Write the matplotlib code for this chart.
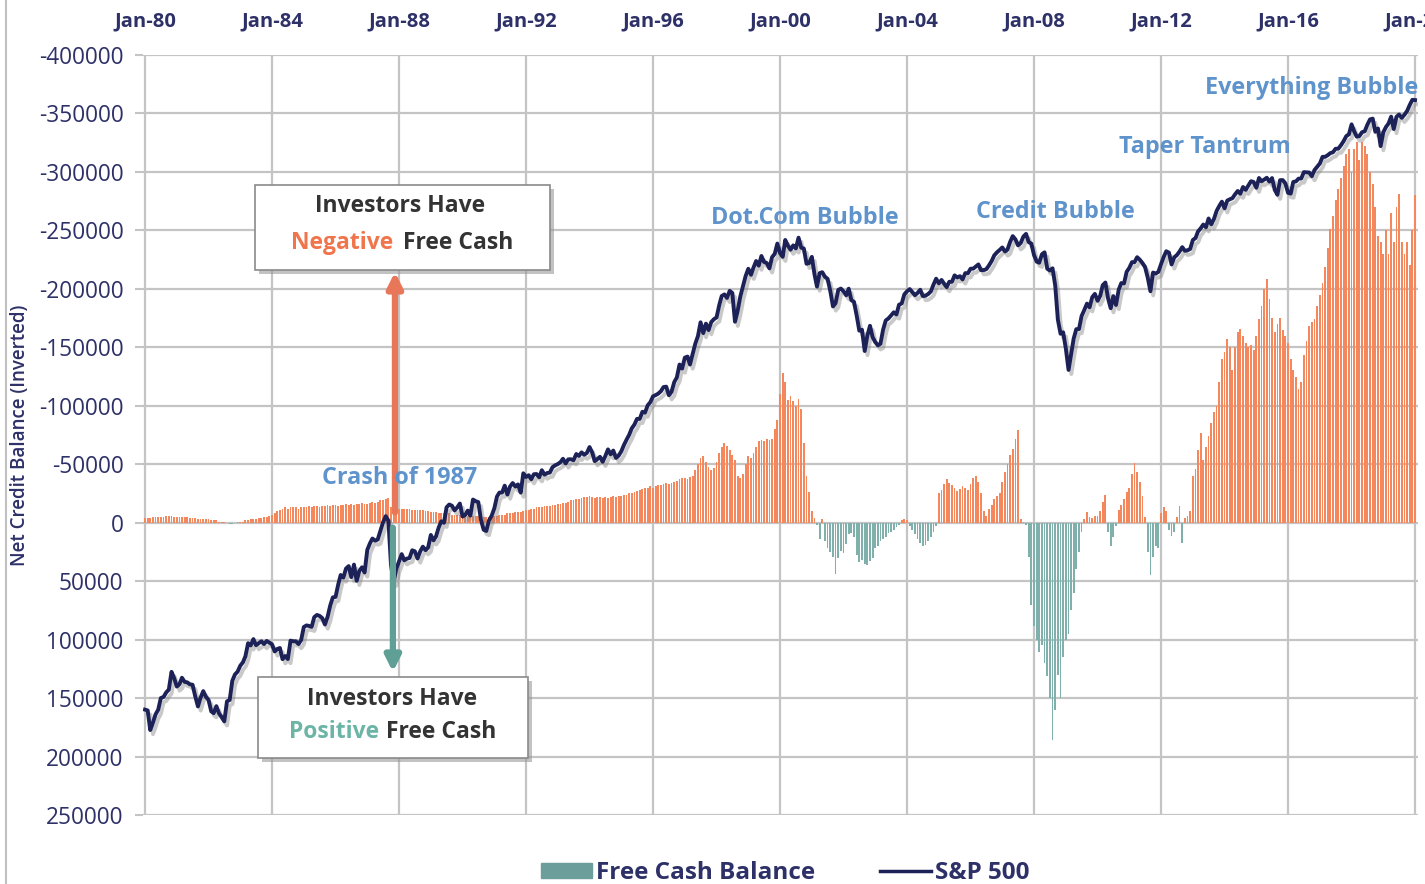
import numpy as np
import pandas as pd
import matplotlib
matplotlib.use("Agg")
import matplotlib.pyplot as plt
import matplotlib.dates as mdates
import matplotlib.patheffects as pe
from matplotlib.patches import Rectangle, Patch
from matplotlib.lines import Line2D

plt.rcParams['font.family'] = ['Open Sans', 'DejaVu Sans']

# net credit balance (thousands), monthly from Jan-80, negative = investors short of cash
balance_k = [
    -4, -4, -4, -5, -5, -5, -5, -5, -6, -6, -6, -5,            # 1980
    -5, -5, -5, -5, -5, -4, -4, -4, -3, -3, -3, -3,            # 1981
    -3, -2, -2, -2, -1, -1, -1, 0, 1, 1, 0, -1,                # 1982
    -1, -1, -2, -2, -3, -3, -3, -4, -4, -5, -5, -6,            # 1983
    -7, -8, -10, -11, -12, -13, -12, -13, -13, -13, -12, -13,  # 1984
    -13, -13, -14, -13, -14, -14, -13, -14, -14, -15, -14, -15,
    -15, -14, -15, -15, -16, -15, -16, -15, -16, -16, -17, -16,
    -16, -17, -18, -17, -18, -19, -19, -20, -21, -13, -12, -12,  # 1987
    -12, -12, -12, -12, -12, -11, -11, -11, -11, -11, -10, -10,
    -9, -9, -9, -8, -8, -8, -8, -8, -7, -7, -7, -7,
    -7, -7, -6, -6, -6, -6, -6, -6, -5, -5, -5, -6,            # 1990
    -6, -6, -7, -7, -7, -8, -8, -8, -9, -9, -9, -10,
    -11, -11, -12, -12, -13, -13, -13, -14, -14, -14, -15, -15,
    -16, -16, -17, -17, -18, -19, -19, -20, -20, -21, -22, -22,
    -23, -22, -21, -22, -22, -21, -22, -21, -22, -23, -22, -23,
    -23, -24, -24, -25, -25, -26, -27, -28, -29, -30, -30, -31,  # 1995
    -30, -31, -32, -32, -33, -34, -33, -34, -35, -36, -37, -38,
    -38, -37, -39, -40, -45, -50, -55, -57, -52, -48, -45, -47,
    -52, -60, -65, -68, -66, -62, -58, -54, -40, -38, -42, -50,
    -57, -55, -60, -65, -70, -71, -70, -72, -71, -72, -80, -88,
    -110, -128, -120, -105, -108, -104, -100, -106, -97, -68, -40, -26,  # 2000
    -10, -4, 2, 14, -3, 16, 22, 25, 29, 44, 30, 24,
    26, 18, 10, 9, 12, 28, 34, 32, 35, 36, 33, 30,
    22, 20, 16, 14, 12, 9, 8, 6, 4, 2, -2, -3,
    -2, 3, 6, 10, 14, 17, 20, 19, 16, 12, 8, 3,
    -25, -28, -33, -37, -34, -32, -30, -27, -29, -31, -30, -28,  # 2005
    -33, -38, -40, -35, -25, -10, -6, -12, -15, -20, -23, -25,
    -35, -43, -50, -58, -63, -72, -79, -3, -1, 2, 29, 70,
    88, 100, 111, 105, 120, 131, 150, 186, 160, 130, 150, 115,
    100, 95, 75, 60, 40, 25, 8, -3, -9, -5, -4, -6,
    -6, -10, -18, -24, 8, 20, 12, 3, -11, -15, -20, -26,       # 2010
    -30, -42, -51, -43, -35, -23, -5, 25, 45, 29, 20, 22,
    -8, -13, -10, 6, 11, 8, -5, -14, 17, -4, -6, -10,
    -40, -46, -62, -77, -54, -65, -74, -85, -95, -100, -120, -140,
    -146, -157, -150, -131, -150, -163, -166, -160, -154, -150, -152, -148,
    -160, -174, -185, -200, -208, -191, -175, -163, -170, -175, -165, -160,  # 2015
    -154, -140, -131, -125, -114, -120, -143, -155, -168, -172, -174, -185,
    -195, -205, -219, -235, -251, -262, -276, -285, -295, -305, -315, -320,
    -300, -320, -326, -310, -326, -322, -315, -300, -290, -270, -245, -240,
    -230, -250, -230, -265, -240, -270, -281, -240, -230, -240, -220, -250,
    -280,                                                        # 2020
]

# S&P 500 month-end level
sp500 = [
    114.2, 113.7, 102.1, 106.3, 111.2, 114.2, 121.7, 122.4, 125.5, 127.5, 140.5, 135.8,
    129.6, 131.3, 136.0, 133.0, 132.6, 131.2, 130.9, 122.8, 116.2, 121.9, 126.4, 122.6,
    120.4, 113.1, 112.0, 116.4, 111.9, 109.6, 107.1, 119.5, 120.4, 133.7, 138.5, 140.6,
    145.3, 148.1, 153.0, 164.4, 162.4, 168.1, 162.6, 164.4, 166.1, 163.6, 166.4, 164.9,
    163.4, 157.1, 159.2, 160.1, 150.6, 153.2, 150.7, 166.7, 166.1, 166.1, 163.6, 167.2,
    179.6, 181.2, 180.7, 179.8, 189.6, 191.9, 190.9, 188.6, 182.1, 189.8, 202.2, 211.3,
    211.8, 226.9, 238.9, 235.5, 247.4, 250.8, 236.1, 252.9, 231.3, 244.0, 249.2, 242.2,
    274.1, 284.2, 291.7, 288.4, 290.1, 304.0, 318.7, 329.8, 321.8, 251.8, 230.3, 247.1,
    257.1, 267.8, 258.9, 261.3, 262.2, 273.5, 272.0, 261.5, 271.9, 279.0, 273.7, 277.7,
    297.5, 288.9, 294.9, 309.6, 320.5, 318.0, 346.1, 351.5, 349.2, 340.4, 346.0, 353.4,
    329.1, 331.9, 339.9, 330.8, 361.2, 358.0, 356.2, 322.6, 306.1, 304.0, 322.2, 330.2,
    343.9, 367.1, 375.2, 375.3, 389.8, 371.2, 387.8, 395.4, 387.9, 392.5, 375.2, 417.1,
    408.8, 412.7, 403.7, 415.0, 415.4, 408.1, 424.2, 414.0, 417.8, 418.7, 431.4, 435.7,
    438.8, 443.4, 451.7, 440.2, 450.2, 450.5, 448.1, 463.6, 458.9, 467.8, 461.8, 466.4,
    481.6, 467.1, 445.8, 450.9, 456.5, 444.3, 458.3, 475.5, 462.7, 472.4, 453.7, 459.3,
    470.4, 487.4, 500.7, 514.7, 533.4, 544.8, 562.1, 561.9, 584.4, 581.5, 605.4, 615.9,
    636.0, 640.4, 645.5, 654.2, 669.1, 670.6, 639.9, 652.0, 687.3, 705.3, 757.0, 740.7,
    786.2, 790.8, 757.1, 801.3, 848.3, 885.1, 954.3, 899.5, 947.3, 914.6, 955.4, 970.4,
    980.3, 1049.3, 1101.8, 1111.8, 1090.8, 1133.8, 1120.7, 957.3, 1017.0, 1098.7, 1163.6, 1229.2,
    1279.6, 1238.3, 1286.4, 1335.2, 1301.8, 1372.7, 1328.7, 1320.4, 1282.7, 1362.9, 1388.9, 1469.3,
    1394.5, 1366.4, 1498.6, 1452.4, 1420.6, 1454.6, 1430.8, 1517.7, 1436.5, 1429.4, 1315.2, 1320.3,
    1366.0, 1239.9, 1160.3, 1249.5, 1255.8, 1224.4, 1211.2, 1133.6, 1040.9, 1059.8, 1139.5, 1148.1,
    1130.2, 1106.7, 1147.4, 1076.9, 1067.1, 989.8, 911.6, 916.1, 815.3, 885.8, 936.3, 879.8,
    855.7, 841.2, 848.2, 916.9, 963.6, 974.5, 990.3, 1008.0, 996.0, 1050.7, 1058.2, 1111.9,
    1131.1, 1144.9, 1126.2, 1107.3, 1120.7, 1140.8, 1101.7, 1104.2, 1114.6, 1130.2, 1173.8, 1211.9,
    1181.3, 1203.6, 1180.6, 1156.9, 1191.5, 1191.3, 1234.2, 1220.3, 1228.8, 1207.0, 1249.5, 1248.3,
    1280.1, 1280.7, 1294.9, 1310.6, 1270.1, 1270.2, 1276.7, 1303.8, 1335.9, 1377.9, 1400.6, 1418.3,
    1438.2, 1406.8, 1420.9, 1482.4, 1530.6, 1503.4, 1455.3, 1474.0, 1526.8, 1549.4, 1481.1, 1468.4,
    1378.6, 1330.6, 1322.7, 1385.6, 1400.4, 1280.0, 1267.4, 1282.8, 1166.4, 968.8, 896.2, 903.3,
    825.9, 735.1, 797.9, 872.8, 919.1, 919.3, 987.5, 1020.6, 1057.1, 1036.2, 1095.6, 1115.1,
    1073.9, 1104.5, 1169.4, 1186.7, 1089.4, 1030.7, 1101.6, 1049.3, 1141.2, 1183.3, 1180.6, 1257.6,
    1286.1, 1327.2, 1325.8, 1363.6, 1345.2, 1320.6, 1292.3, 1218.9, 1131.4, 1253.3, 1247.0, 1257.6,
    1312.4, 1365.7, 1408.5, 1397.9, 1310.3, 1362.2, 1379.3, 1406.6, 1440.7, 1412.2, 1416.2, 1426.2,
    1498.1, 1514.7, 1569.2, 1597.6, 1630.7, 1606.3, 1685.7, 1633.0, 1681.6, 1756.5, 1805.8, 1848.4,
    1782.6, 1859.5, 1872.3, 1884.0, 1923.6, 1960.2, 1930.7, 2003.4, 1972.3, 2018.1, 2067.6, 2058.9,
    1995.0, 2104.5, 2067.9, 2085.5, 2107.4, 2063.1, 2103.8, 1972.2, 1920.0, 2079.4, 2080.4, 2043.9,
    1940.2, 1932.2, 2059.7, 2065.3, 2097.0, 2098.9, 2173.6, 2171.0, 2168.3, 2126.2, 2199.0, 2238.8,
    2278.9, 2363.6, 2362.7, 2384.2, 2411.8, 2423.4, 2470.3, 2471.7, 2519.4, 2575.3, 2647.6, 2673.6,
    2823.8, 2713.8, 2640.9, 2648.1, 2705.3, 2718.4, 2816.3, 2901.5, 2914.0, 2711.7, 2760.2, 2506.9,
    2704.1, 2784.5, 2834.4, 2945.8, 2752.1, 2941.8, 2980.4, 2926.5, 2976.7, 3037.6, 3141.0, 3230.8,
    3225.5,
]

tick_years = list(range(1980, 2021, 4))
y_ticks = list(range(-400000, 250001, 50000))

navy = "#1c2257"
orange = "#f5875c"
teal = "#7fb0ab"
label_blue = "#5f93cc"
grid_c = "#c4c4c4"
text_navy = "#2e3168"

dates = pd.date_range("1980-01-01", periods=len(balance_k), freq="MS")
bal = np.array(balance_k) * 1000
neg = np.where(bal < 0, bal, 0)
pos = np.where(bal > 0, bal, 0)

fig = plt.figure(figsize=(14.25, 8.84), dpi=100)
ax = fig.add_axes([143 / 1425, 1 - 815 / 884, 1275 / 1425, 760 / 884])

ax.bar(dates, neg, width=21, color=orange, linewidth=0, zorder=2)
ax.bar(dates, pos, width=21, color=teal, linewidth=0, zorder=2)

ax.set_ylim(250000, -400000)
ax.set_yticks(y_ticks)
ax.set_yticklabels([str(v) for v in y_ticks])
ax.set_xlim(pd.Timestamp("1979-12-09"), pd.Timestamp("2020-02-04"))
ax.set_xticks([pd.Timestamp(f"{y}-01-01") for y in tick_years])
ax.xaxis.set_major_formatter(mdates.DateFormatter("%b-%y"))
ax.xaxis.tick_top()
ax.grid(True, color=grid_c, lw=1.6, zorder=0)
ax.set_axisbelow(True)
for s in ax.spines.values():
    s.set_visible(False)
ax.tick_params(axis="y", length=6, color=grid_c, width=1.5, pad=8,
               labelsize=16.3, labelcolor=text_navy)
ax.tick_params(axis="x", length=0, pad=17, labelsize=14.5, labelcolor=text_navy)
for t in ax.get_xticklabels():
    t.set_fontweight("bold")
ax.set_ylabel("Net Credit Balance (Inverted)", fontsize=13.5, fontweight="semibold",
              color=text_navy)
ax.yaxis.set_label_coords(-0.089, 0.5)

# S&P 500 on a hidden log axis
ax2 = ax.twinx()
ax2.set_yscale("log")
ax2.set_ylim(64.1, 4130)
ax2.set_axis_off()
ax2.plot(dates, sp500, color=navy, lw=2.8, zorder=3,
         path_effects=[pe.SimpleLineShadow(offset=(2, -3), shadow_color="#888888", alpha=0.45),
                       pe.Normal()])

# event labels
for txt, x, y in [("Crash of 1987", 0.2016, 0.4434),
                  ("Dot.Com Bubble", 0.5192, 0.7855),
                  ("Credit Bubble", 0.7153, 0.7934),
                  ("Taper Tantrum", 0.8329, 0.8789),
                  ("Everything Bubble", 0.9169, 0.9566)]:
    ax2.text(x, y, txt, transform=ax2.transAxes, ha="center", va="center",
             fontsize=16.8, fontweight="bold", color=label_blue, zorder=6)

# arrows
ax2.annotate("", xy=(0.1976, 0.7145), xytext=(0.1976, 0.398), xycoords="axes fraction",
             arrowprops=dict(arrowstyle="-|>,head_width=0.45,head_length=0.9",
                             color="#e8775a", lw=4.5, shrinkA=0, shrinkB=0), zorder=5)
ax2.annotate("", xy=(0.1960, 0.1882), xytext=(0.1960, 0.378), xycoords="axes fraction",
             arrowprops=dict(arrowstyle="-|>,head_width=0.45,head_length=0.9",
                             color="#5f9f96", lw=4.5, shrinkA=0, shrinkB=0), zorder=5)

# call-out boxes
dx, dy = 4 / 1275, 4 / 760
def callout(x0, y0, w, h):
    ax2.add_patch(Rectangle((x0 + dx, y0 - dy), w, h, transform=ax2.transAxes,
                            facecolor="#9a9a9a", alpha=0.6, lw=0, zorder=7))
    ax2.add_patch(Rectangle((x0, y0), w, h, transform=ax2.transAxes,
                            facecolor="white", edgecolor="#8a8a8a", lw=1.2, zorder=8))

box_fs = 16.5
callout(0.0878, 0.7171, 0.2314, 0.1118)
ax2.text(0.2016, 0.8013, "Investors Have", transform=ax2.transAxes, ha="center",
         va="center", fontsize=box_fs, fontweight="bold", color="#333333", zorder=9)
ax2.text(0.1960, 0.7526, "Negative", transform=ax2.transAxes, ha="right",
         va="center", fontsize=box_fs, fontweight="bold", color="#f0744c", zorder=9)
ax2.text(0.2039, 0.7526, "Free Cash", transform=ax2.transAxes, ha="left",
         va="center", fontsize=box_fs, fontweight="bold", color="#333333", zorder=9)

callout(0.0902, 0.075, 0.2118, 0.1066)
ax2.text(0.1953, 0.1526, "Investors Have", transform=ax2.transAxes, ha="center",
         va="center", fontsize=box_fs, fontweight="bold", color="#333333", zorder=9)
ax2.text(0.1851, 0.1092, "Positive", transform=ax2.transAxes, ha="right",
         va="center", fontsize=box_fs, fontweight="bold", color="#6cb5a6", zorder=9)
ax2.text(0.1906, 0.1092, "Free Cash", transform=ax2.transAxes, ha="left",
         va="center", fontsize=box_fs, fontweight="bold", color="#333333", zorder=9)

handles = [Patch(color="#6c9e9b"), Line2D([], [], color=navy, lw=2.5)]
leg = fig.legend(handles, ["Free Cash Balance", "S&P 500"], loc="center",
                 bbox_to_anchor=(0.551, 0.0124), ncol=2, frameon=False,
                 handlelength=2.1, handleheight=0.6, handletextpad=0.15,
                 columnspacing=2.7, prop=dict(weight="bold", size=17.5))
for t in leg.get_texts():
    t.set_color(text_navy)

fig.add_artist(Line2D([0.004, 0.004], [0, 1], color="#c0c0c0", lw=1.5))

fig.savefig("out.png", dpi=100)
